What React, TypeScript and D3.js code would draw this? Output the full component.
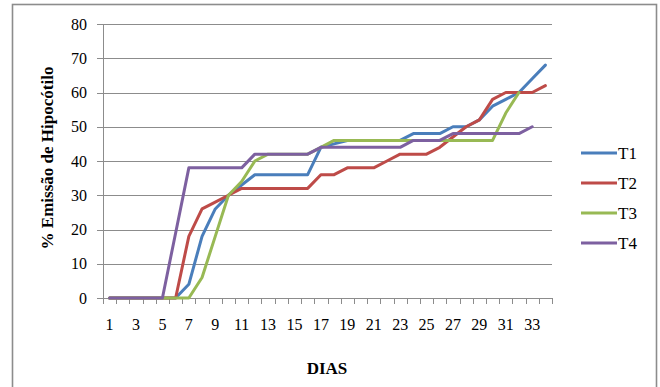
import React from "react";
import * as d3 from "d3";

// Days 1..34
const dias: number[] = Array.from({ length: 34 }, (_, i) => i + 1);

// % hypocotyl emergence per treatment, by day
const t1: number[] = [0, 0, 0, 0, 0, 0, 4, 18, 26, 30, 33, 36, 36, 36, 36, 36, 44, 45, 46, 46, 46, 46, 46, 48, 48, 48, 50, 50, 52, 56, 58, 60, 64, 68];
const t2: number[] = [0, 0, 0, 0, 0, 0, 18, 26, 28, 30, 32, 32, 32, 32, 32, 32, 36, 36, 38, 38, 38, 40, 42, 42, 42, 44, 47, 50, 52, 58, 60, 60, 60, 62];
const t3: number[] = [0, 0, 0, 0, 0, 0, 0, 6, 18, 30, 34, 40, 42, 42, 42, 42, 44, 46, 46, 46, 46, 46, 46, 46, 46, 46, 46, 46, 46, 46, 54, 60];
const t4: number[] = [0, 0, 0, 0, 0, 19, 38, 38, 38, 38, 38, 42, 42, 42, 42, 42, 44, 44, 44, 44, 44, 44, 44, 46, 46, 46, 48, 48, 48, 48, 48, 48, 50];

const seriesNames: string[] = ["T1", "T2", "T3", "T4"];
const seriesColors: string[] = ["#4A7EBB", "#BE4B48", "#98B954", "#7D60A0"];
const yTicks: number[] = [0, 10, 20, 30, 40, 50, 60, 70, 80];
const xLabelDays: number[] = dias.filter((d) => d % 2 === 1);

const W = 660;
const H = 387;
const plot = { left: 103, right: 552, top: 24, bottom: 298 };
const serif = "Liberation Serif";
const gridColor = "#8c8c8c";

export default function App() {
  const allSeries = [t1, t2, t3, t4];

  const x = d3
    .scaleBand<number>()
    .domain(dias)
    .range([plot.left, plot.right])
    .paddingInner(0)
    .paddingOuter(0);
  const y = d3.scaleLinear().domain([0, 80]).range([plot.bottom, plot.top]);

  const xc = (d: number) => (x(d) as number) + x.bandwidth() / 2;

  const line = d3
    .line<number>()
    .x((_, i) => xc(dias[i]))
    .y((v) => y(v));

  const boundaries = dias.map((d) => x(d) as number).concat([plot.right]);
  const textStyle: React.CSSProperties = { fontFamily: serif };

  return (
    <svg
      width={W}
      height={H}
      style={{ position: "absolute", left: 0, top: 0, background: "#fff" }}
    >
      <rect x={0} y={0} width={W} height={H} fill="#fff" />
      {/* outer frame */}
      <rect
        x={12.5}
        y={4.5}
        width={644}
        height={420}
        fill="none"
        stroke={gridColor}
        strokeWidth={1.6}
      />

      {/* horizontal gridlines */}
      {yTicks.map((t) => (
        <line
          key={"g" + t}
          x1={plot.left}
          x2={plot.right}
          y1={Math.round(y(t)) + 0.5}
          y2={Math.round(y(t)) + 0.5}
          stroke={gridColor}
          strokeWidth={1}
        />
      ))}

      {/* y axis with ticks */}
      <line
        x1={plot.left + 0.5}
        x2={plot.left + 0.5}
        y1={plot.top}
        y2={plot.bottom}
        stroke={gridColor}
        strokeWidth={1}
      />
      {yTicks.map((t) => (
        <line
          key={"yt" + t}
          x1={plot.left - 6}
          x2={plot.left}
          y1={Math.round(y(t)) + 0.5}
          y2={Math.round(y(t)) + 0.5}
          stroke={gridColor}
          strokeWidth={1}
        />
      ))}
      {yTicks.map((t) => (
        <text
          key={"yl" + t}
          x={87}
          y={y(t) + 5.5}
          textAnchor="end"
          style={textStyle}
          fontSize={16}
          fill="#000"
        >
          {t}
        </text>
      ))}

      {/* x axis ticks at category boundaries */}
      {boundaries.map((b, i) => (
        <line
          key={"xt" + i}
          x1={Math.round(b) + 0.5}
          x2={Math.round(b) + 0.5}
          y1={plot.bottom}
          y2={plot.bottom + 6}
          stroke={gridColor}
          strokeWidth={1}
        />
      ))}
      {xLabelDays.map((d) => (
        <text
          key={"xl" + d}
          x={xc(d)}
          y={330}
          textAnchor="middle"
          style={textStyle}
          fontSize={16}
          fill="#000"
        >
          {d}
        </text>
      ))}

      {/* series lines */}
      {allSeries.map((s, k) => (
        <path
          key={"s" + k}
          d={line(s) || ""}
          fill="none"
          stroke={seriesColors[k]}
          strokeWidth={3}
          strokeLinejoin="round"
          strokeLinecap="round"
        />
      ))}

      {/* axis titles */}
      <text
        x={327}
        y={374}
        textAnchor="middle"
        style={textStyle}
        fontSize={17}
        fontWeight="bold"
        fill="#000"
      >
        DIAS
      </text>
      <text
        transform={`translate(53, 158) rotate(-90)`}
        textAnchor="middle"
        style={textStyle}
        fontSize={17}
        fontWeight="bold"
        fill="#000"
      >
        % Emissão de Hipocótilo
      </text>

      {/* legend */}
      {seriesNames.map((n, k) => (
        <g key={"lg" + k} transform={`translate(0, ${153 + k * 30})`}>
          <line
            x1={581}
            x2={617}
            y1={0}
            y2={0}
            stroke={seriesColors[k]}
            strokeWidth={3}
          />
          <text x={618} y={6} style={textStyle} fontSize={17} fill="#000">
            {n}
          </text>
        </g>
      ))}
    </svg>
  );
}
